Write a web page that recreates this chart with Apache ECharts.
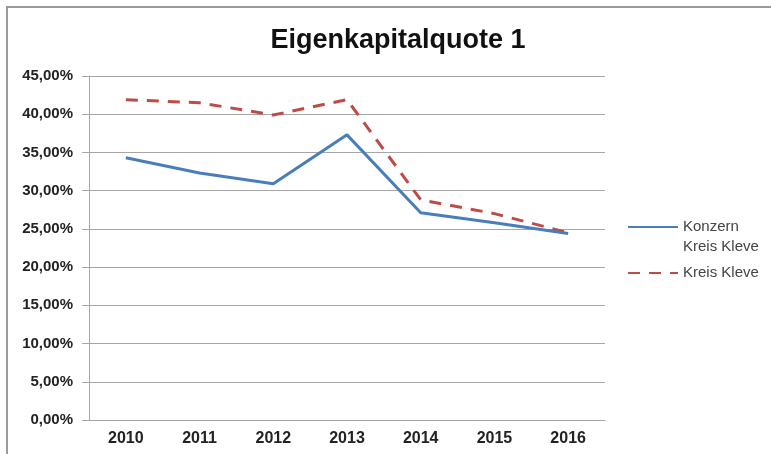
<!DOCTYPE html>
<html>
<head>
<meta charset="utf-8">
<script src="https://cdn.jsdelivr.net/npm/echarts@6/dist/echarts.min.js"></script>
<style>
html, body { margin: 0; padding: 0; background: #fff; }
#chart { width: 771px; height: 454px; }
</style>
</head>
<body>
<div id="chart"></div>
<script>
// Werte (in Prozent)
var years = ['2010', '2011', '2012', '2013', '2014', '2015', '2016'];
var konzern = [34.3, 32.3, 30.9, 37.3, 27.1, 25.8, 24.4];
var kreisKleve = [41.9, 41.5, 39.9, 41.9, 28.8, 27.0, 24.5];
var seriesNames = ['Konzern\nKreis Kleve', 'Kreis Kleve'];

var chart = echarts.init(document.getElementById('chart'));
var font = 'Liberation Sans, Arial, sans-serif';

var option = {
    animation: false,
    backgroundColor: '#fff',
    title: {
        text: 'Eigenkapitalquote 1',
        left: 393,
        top: 22,
        textAlign: 'center',
        textStyle: { fontFamily: font, fontSize: 27, fontWeight: 'bold', color: '#111' }
    },
    graphic: [
        { type: 'polyline', shape: { points: [[7, 454], [7, 7], [771, 7]] },
          style: { stroke: '#9a9a9a', lineWidth: 2, fill: null } }
    ],
    legend: [
        {
            data: [seriesNames[0]],
            left: 627, top: 197, padding: 0, orient: 'vertical',
            itemWidth: 50, itemHeight: 14, itemGap: 0,
            itemStyle: { opacity: 0 },
            // leere erste Zeile, damit die Linie auf Höhe von "Konzern" liegt
            formatter: function (name) { return ' \n' + name; },
            textStyle: { fontFamily: font, fontSize: 15, color: '#444', lineHeight: 20 }
        },
        {
            data: [seriesNames[1]],
            left: 627, top: 263, padding: 0, orient: 'vertical',
            itemWidth: 50, itemHeight: 14,
            itemStyle: { opacity: 0 },
            textStyle: { fontFamily: font, fontSize: 15, color: '#444', lineHeight: 20 }
        }
    ],
    grid: { left: 89, right: 166, top: 76, bottom: 34 },
    xAxis: {
        type: 'category',
        data: years,
        axisLine: { lineStyle: { color: '#a6a6a6' } },
        axisTick: { length: 5, lineStyle: { color: '#a6a6a6' } },
        axisLabel: { fontFamily: font, fontSize: 16, fontWeight: 'bold', color: '#222', margin: 11 }
    },
    yAxis: {
        type: 'value',
        min: 0, max: 45, interval: 5,
        axisLine: { show: true, lineStyle: { color: '#a6a6a6' } },
        axisTick: { show: true, length: 7, lineStyle: { color: '#a6a6a6' } },
        splitLine: { lineStyle: { color: '#a6a6a6' } },
        axisLabel: {
            fontFamily: font, fontSize: 15, fontWeight: 'bold', color: '#222', margin: 16,
            formatter: function (v) { return v.toFixed(2).replace('.', ',') + '%'; }
        }
    },
    series: [
        {
            name: seriesNames[0], type: 'line', data: konzern,
            symbol: 'none', z: 3,
            lineStyle: { color: '#4a7ebb', width: 3 },
            itemStyle: { color: '#4a7ebb' }
        },
        {
            name: seriesNames[1], type: 'line', data: kreisKleve,
            symbol: 'none', z: 2,
            lineStyle: { color: '#be4b48', width: 3, type: [12, 9] },
            itemStyle: { color: '#be4b48' }
        }
    ]
};
chart.setOption(option);
</script>
</body>
</html>
